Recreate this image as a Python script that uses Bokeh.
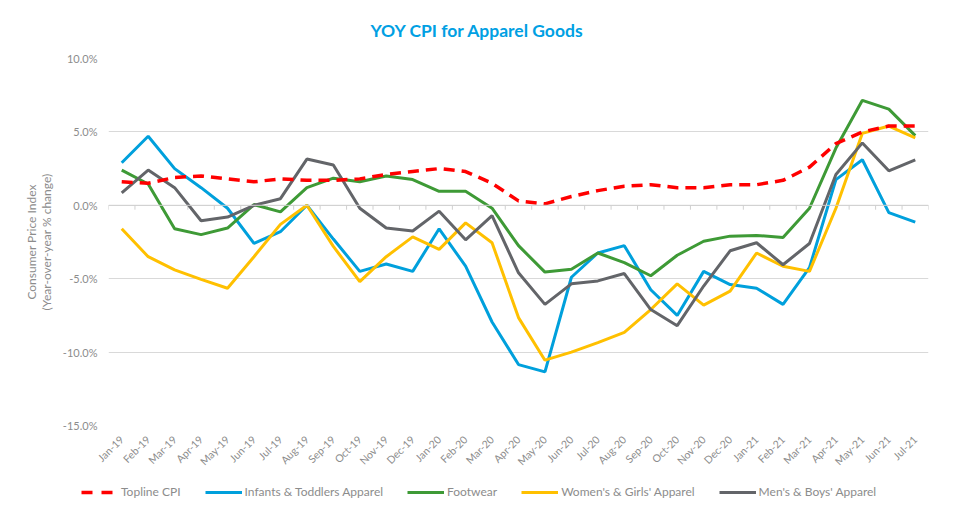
import numpy as np
from bokeh.plotting import figure
from bokeh.layouts import column
from bokeh.models import Range1d, FixedTicker, Legend, LegendItem, Span, Title
from bokeh.embed import file_html
from bokeh.resources import INLINE

months = ["Jan-19","Feb-19","Mar-19","Apr-19","May-19","Jun-19","Jul-19","Aug-19","Sep-19","Oct-19","Nov-19","Dec-19",
          "Jan-20","Feb-20","Mar-20","Apr-20","May-20","Jun-20","Jul-20","Aug-20","Sep-20","Oct-20","Nov-20","Dec-20",
          "Jan-21","Feb-21","Mar-21","Apr-21","May-21","Jun-21","Jul-21"]

topline = [1.6, 1.5, 1.9, 2.0, 1.8, 1.6, 1.8, 1.7, 1.7, 1.8, 2.1, 2.3,
           2.5, 2.3, 1.5, 0.3, 0.1, 0.6, 1.0, 1.3, 1.4, 1.2, 1.2, 1.4,
           1.4, 1.7, 2.6, 4.2, 5.0, 5.4, 5.4]
infants = [2.9, 4.7, 2.5, 1.2, -0.2, -2.6, -1.8, 0.0, -2.3, -4.5, -4.0, -4.5,
           -1.6, -4.15, -7.95, -10.85, -11.35, -4.9, -3.25, -2.75, -5.75, -7.5, -4.5, -5.4,
           -5.65, -6.75, -4.25, 1.75, 3.1, -0.5, -1.15]
footwear = [2.4, 1.45, -1.6, -2.0, -1.55, 0.05, -0.45, 1.2, 1.85, 1.6, 2.0, 1.75,
            0.95, 0.95, -0.2, -2.75, -4.55, -4.35, -3.25, -3.9, -4.8, -3.4, -2.45, -2.1,
            -2.05, -2.2, -0.2, 3.9, 7.15, 6.55, 4.75]
womens = [-1.6, -3.5, -4.4, -5.05, -5.65, -3.5, -1.3, 0.0, -2.8, -5.2, -3.5, -2.15,
          -3.0, -1.2, -2.55, -7.65, -10.55, -10.0, -9.35, -8.65, -7.1, -5.35, -6.8, -5.85,
          -3.25, -4.15, -4.5, -0.2, 4.9, 5.4, 4.6]
mens = [0.85, 2.4, 1.2, -1.05, -0.8, 0.0, 0.45, 3.15, 2.75, -0.2, -1.55, -1.75,
        -0.4, -2.35, -0.7, -4.6, -6.75, -5.35, -5.15, -4.65, -7.1, -8.2, -5.5, -3.1,
        -2.55, -4.05, -2.6, 2.1, 4.25, 2.35, 3.1]

series_names = ["Topline CPI", "Infants & Toddlers Apparel", "Footwear", "Women's & Girls' Apparel", "Men's & Boys' Apparel"]
y_ticks = [-15, -10, -5, 0, 5, 10]

FONT = "Lato"
GREY = "#8C8C8C"
colors = ["#FF0000", "#00A0DC", "#3E9A36", "#FFC000", "#636569"]
data = [topline, infants, footwear, womens, mens]

x = np.arange(len(months))
p = figure(width=965, height=475, output_backend="svg", toolbar_location=None,
           x_range=Range1d(-0.5, len(months) - 0.5), y_range=Range1d(-15, 10))
p.frame_align = False
p.min_border_left = 108
p.min_border_right = 37
p.min_border_top = 58
p.min_border_bottom = 50
p.outline_line_color = None

t = Title(text="YOY CPI for Apparel Goods", align="left", text_color="#00A0E3",
          text_font=FONT, text_font_size="17.5px", text_font_style="bold",
          offset=262, standoff=35)
p.add_layout(t, "above")

# axes
p.yaxis.ticker = FixedTicker(ticks=y_ticks)
p.yaxis.major_label_overrides = {v: f"{v:.1f}%" for v in y_ticks}
p.yaxis.axis_line_color = None
p.yaxis.major_tick_line_color = None
p.yaxis.major_tick_out = 0
p.yaxis.major_tick_in = 0
p.yaxis.minor_tick_line_color = None
p.yaxis.major_label_text_color = GREY
p.yaxis.major_label_text_font = FONT
p.yaxis.major_label_text_font_size = "11px"
p.yaxis.major_label_standoff = 11
p.yaxis.axis_label = "Consumer Price Index\n(Year-over-year % change)"
p.yaxis.axis_label_text_color = GREY
p.yaxis.axis_label_text_font = FONT
p.yaxis.axis_label_text_font_size = "12px"
p.yaxis.axis_label_text_font_style = "normal"
p.yaxis.axis_label_text_line_height = 1.0
p.yaxis.axis_label_standoff = 6

p.xaxis.ticker = FixedTicker(ticks=list(x))
p.xaxis.major_label_overrides = {int(i): m for i, m in zip(x, months)}
p.xaxis.major_label_orientation = np.pi / 4
p.xaxis.axis_line_color = None
p.xaxis.major_tick_line_color = None
p.xaxis.major_tick_out = 0
p.xaxis.major_tick_in = 0
p.xaxis.minor_tick_line_color = None
p.xaxis.major_label_text_color = GREY
p.xaxis.major_label_text_font = FONT
p.xaxis.major_label_text_font_size = "10.5px"
p.xaxis.major_label_standoff = 12

p.xgrid.grid_line_color = None
p.ygrid.ticker = FixedTicker(ticks=y_ticks)
p.ygrid.grid_line_color = "#D9D9D9"
p.ygrid.grid_line_width = 1

# category axis line at 0 with tick marks between categories
p.add_layout(Span(location=0, dimension="width", line_color="#D0D0D0", line_width=1))
bounds = np.arange(len(months) + 1) - 0.5
p.segment(x0=bounds, y0=np.zeros_like(bounds), x1=bounds, y1=np.full_like(bounds, -0.3),
          line_color="#D0D0D0", line_width=1)

for name, c, d in zip(series_names, colors, data):
    if name == "Topline CPI":
        continue
    p.line(x, d, line_color=c, line_width=3)
p.line(x, topline, line_color=colors[0], line_width=3.5, line_dash="11 7")

# legend strip (separate figure under the chart); series drawn outside its view
lg = figure(width=965, height=44, output_backend="svg", toolbar_location=None,
            x_range=Range1d(0, 1), y_range=Range1d(100, 101), min_border=0)
lg.frame_align = False
lg.axis.visible = False
lg.grid.visible = False
lg.outline_line_color = None
items = []
for name, c, d in zip(series_names, colors, data):
    if name == "Topline CPI":
        r = lg.line(x, d, line_color=c, line_width=3.5, line_dash="11 9")
    else:
        r = lg.line(x, d, line_color=c, line_width=3)
    items.append(LegendItem(label=name, renderers=[r]))
legend = Legend(items=items, orientation="horizontal", location=(81, 20),
                label_text_font=FONT, label_text_font_size="12px", label_text_color=GREY,
                glyph_width=37, glyph_height=14, label_height=14, spacing=24, padding=4, margin=0,
                border_line_color=None, background_fill_alpha=0, label_standoff=3)
lg.add_layout(legend, "center")

layout = column(p, lg, spacing=0)
open("out.html", "w").write(file_html(layout, INLINE))
